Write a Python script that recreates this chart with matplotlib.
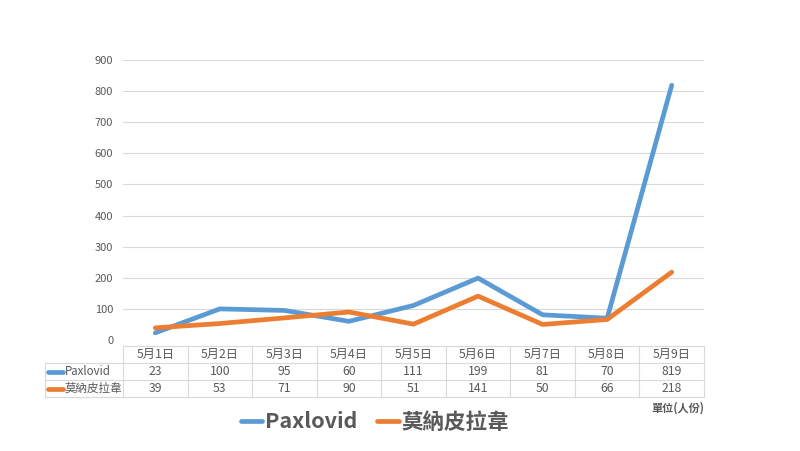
import matplotlib
matplotlib.use("Agg")
import matplotlib.pyplot as plt
from matplotlib.lines import Line2D
from matplotlib.transforms import blended_transform_factory

plt.rcParams['font.family'] = ['Noto Sans CJK TC', 'DejaVu Sans']

dates = ["5月1日", "5月2日", "5月3日", "5月4日", "5月5日", "5月6日", "5月7日", "5月8日", "5月9日"]
paxlovid = [23, 100, 95, 60, 111, 199, 81, 70, 819]
molnupiravir = [39, 53, 71, 90, 51, 141, 50, 66, 218]
series_names = ["Paxlovid", "莫納皮拉韋"]
yticks = [0, 100, 200, 300, 400, 500, 600, 700, 800, 900]
unit_label = "單位(人份)"

BLUE = "#5B9BD5"
ORANGE = "#ED7D31"
TXT = "#595959"
GRID = "#D9D9D9"

W, H = 800, 451
fig = plt.figure(figsize=(8, 4.51), dpi=100)
ax_l, ax_r, ax_top, ax_bot = 123, 704, 60, 340
ax = fig.add_axes([ax_l / W, 1 - ax_bot / H, (ax_r - ax_l) / W, (ax_bot - ax_top) / H])

x = list(range(len(dates)))
ax.plot(x, paxlovid, color=BLUE, lw=3.4, solid_capstyle='round', solid_joinstyle='round', zorder=3)
ax.plot(x, molnupiravir, color=ORANGE, lw=3.4, solid_capstyle='round', solid_joinstyle='round', zorder=3)
ax.set_xlim(-0.5, len(dates) - 0.5)
ax.set_ylim(0, 900)
ax.set_yticks(yticks)
ax.set_yticklabels([str(v) for v in yticks], fontsize=8, color=TXT)
ax.tick_params(axis='y', length=0, pad=7)
ax.set_xticks([])
for s in ax.spines.values():
    s.set_visible(False)
ax.grid(axis='y', color=GRID, lw=0.8)
ax.set_axisbelow(True)

# data table below
tr = blended_transform_factory(ax.transData, fig.transFigure)
def fy(py):
    return 1 - py / H

row_edges = [346, 363, 380, 397]
left_px = 45
ftr = fig.transFigure
for i, py in enumerate(row_edges):
    x0 = left_px if i >= 1 else ax_l
    fig.add_artist(Line2D([x0 / W, ax_r / W], [fy(py), fy(py)], transform=ftr, color=GRID, lw=0.8))
for i in range(len(dates) + 1):
    fig.add_artist(Line2D([i - 0.5, i - 0.5], [fy(row_edges[0]), fy(row_edges[-1])], transform=tr, color=GRID, lw=0.8))
fig.add_artist(Line2D([left_px / W, left_px / W], [fy(row_edges[1]), fy(row_edges[-1])], transform=ftr, color=GRID, lw=0.8))

rows = [dates, [str(v) for v in paxlovid], [str(v) for v in molnupiravir]]
for r, vals in enumerate(rows):
    yc = fy((row_edges[r] + row_edges[r + 1]) / 2)
    for i, v in enumerate(vals):
        fig.text(i, yc, v, transform=tr, ha='center', va='center', fontsize=8.8, color=TXT)

for r, (name, col) in enumerate(zip(series_names, [BLUE, ORANGE])):
    yc = fy((row_edges[r + 1] + row_edges[r + 2]) / 2)
    fig.add_artist(Line2D([48 / W, 63 / W], [yc, yc], transform=ftr, color=col, lw=3.4, solid_capstyle='round'))
    fig.text(65 / W, yc, name, ha='left', va='center', fontsize=8.3, color=TXT)

fig.text(ax_r / W, fy(408), unit_label, ha='right', va='center', fontsize=8, color=TXT, fontweight='bold')

handles = [Line2D([], [], color=BLUE, lw=3.4, solid_capstyle='round'),
           Line2D([], [], color=ORANGE, lw=3.4, solid_capstyle='round')]
leg = fig.legend(handles, series_names, loc='center', bbox_to_anchor=(375 / W, fy(422)), ncol=2,
                 frameon=False, handlelength=1.0, handletextpad=0.15, columnspacing=0.9,
                 prop={'size': 15.5, 'weight': 'bold'})
for t in leg.get_texts():
    t.set_color(TXT)

fig.savefig("out.png", dpi=100)
